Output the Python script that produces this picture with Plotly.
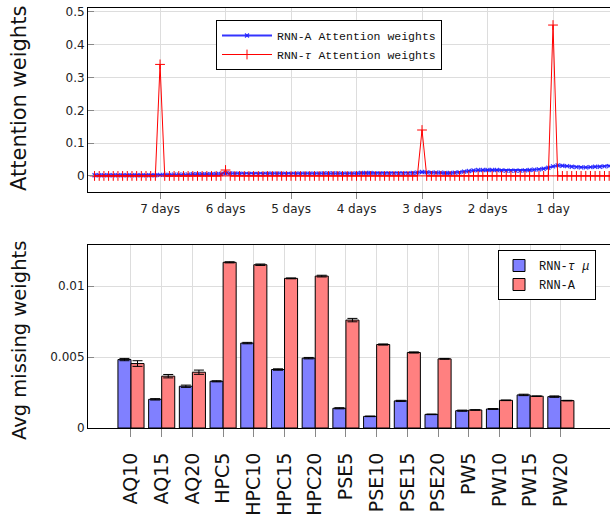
import plotly.graph_objects as go

# ---------------- data: top chart (attention weights) ----------------
steps_per_day = 14
day_ticks = [-7, -6, -5, -4, -3, -2, -1]
day_labels = ["7 days", "6 days", "5 days", "4 days", "3 days", "2 days", "1 day"]

rnn_a_att = [
    0.002, 0.002, 0.002, 0.002, 0.002, 0.002, 0.002, 0.002, 0.002, 0.002, 0.002, 0.002, 0.002, 0.002, 0.003,
    0.003, 0.003, 0.004, 0.004, 0.004, 0.004, 0.005, 0.005, 0.005, 0.005, 0.005, 0.006, 0.006, 0.008,
    0.008, 0.007, 0.007, 0.006, 0.006, 0.006, 0.006, 0.006, 0.007, 0.007, 0.007, 0.007, 0.006, 0.006,
    0.007, 0.007, 0.007, 0.007, 0.007, 0.007, 0.008, 0.008, 0.008, 0.008, 0.007, 0.007, 0.007, 0.008,
    0.009, 0.009, 0.009, 0.008, 0.008, 0.008, 0.008, 0.008, 0.008, 0.008, 0.008, 0.009, 0.010, 0.012,
    0.011, 0.010, 0.010, 0.010, 0.009, 0.009, 0.010, 0.011, 0.013, 0.015, 0.017, 0.018, 0.018, 0.018,
    0.018, 0.018, 0.017, 0.016, 0.016, 0.016, 0.016, 0.017, 0.018, 0.019, 0.020, 0.022, 0.025, 0.029,
    0.032, 0.031, 0.030, 0.028, 0.027, 0.026, 0.026, 0.027, 0.028, 0.028, 0.029, 0.030, 0.031, 0.033,
]

rnn_tau_att = [
    0.0, 0.0, 0.0, 0.0, 0.0, 0.0, 0.0, 0.0, 0.0, 0.0, 0.0, 0.0, 0.0, 0.0, 0.34,
    0.0, 0.0, 0.0, 0.0, 0.0, 0.0, 0.0, 0.0, 0.0, 0.0, 0.0, 0.0, 0.0, 0.018,
    0.0, 0.0, 0.0, 0.0, 0.0, 0.0, 0.0, 0.0, 0.0, 0.0, 0.0, 0.0, 0.0, 0.0,
    0.0, 0.0, 0.0, 0.0, 0.0, 0.0, 0.0, 0.0, 0.0, 0.0, 0.0, 0.0, 0.0, 0.0,
    0.0, 0.0, 0.0, 0.0, 0.0, 0.0, 0.0, 0.0, 0.0, 0.0, 0.0, 0.0, 0.0, 0.14,
    0.0, 0.0, 0.0, 0.0, 0.0, 0.0, 0.0, 0.0, 0.0, 0.0, 0.0, 0.0, 0.0, 0.0,
    0.0, 0.0, 0.0, 0.0, 0.0, 0.0, 0.0, 0.0, 0.0, 0.0, 0.0, 0.0, 0.0, 0.46,
    0.0, 0.0, 0.0, 0.0, 0.0, 0.0, 0.0, 0.0, 0.0, 0.0, 0.0, 0.0, 0.0, 0.0,
]

n_steps = len(rnn_a_att)
time_days = [(i - (n_steps - 1)) / steps_per_day for i in range(n_steps)]

# ---------------- data: bottom chart (avg missing weights) ----------------
datasets = ["AQ10", "AQ15", "AQ20", "HPC5", "HPC10", "HPC15", "HPC20",
            "PSE5", "PSE10", "PSE15", "PSE20", "PW5", "PW10", "PW15", "PW20"]
rnn_tau_mu = [0.00482, 0.00202, 0.00294, 0.00329, 0.00598, 0.00412, 0.00492,
              0.00139, 0.00082, 0.00191, 0.00096, 0.00122, 0.00134, 0.00233, 0.00221]
rnn_tau_mu_err = [0.00008, 0.00005, 0.00008, 0.00004, 0.00005, 0.00005, 0.00005,
                  0.00004, 0.00002, 0.00004, 0.00002, 0.00004, 0.00003, 0.00005, 0.00005]
rnn_a_missing = [0.00454, 0.00365, 0.00393, 0.01167, 0.01150, 0.01054, 0.01070,
                 0.00760, 0.00588, 0.00532, 0.00487, 0.00127, 0.00195, 0.00224, 0.00193]
rnn_a_missing_err = [0.00020, 0.00012, 0.00015, 0.00004, 0.00005, 0.00003, 0.00006,
                     0.00012, 0.00004, 0.00004, 0.00003, 0.00002, 0.00002, 0.00002, 0.00002]

W, H = 610, 521
FONT = "DejaVu Sans"
MONO = "Liberation Mono, Courier New, DejaVu Sans Mono, monospace"

fig = go.Figure()

fig.add_trace(go.Scatter(
    x=time_days, y=rnn_a_att, mode="lines+markers",
    name="RNN-A Attention weights",
    line=dict(color="rgba(30,30,255,0.9)", width=1.8),
    marker=dict(symbol="x-thin", size=4, line=dict(color="rgba(30,30,255,0.9)", width=1.2)),
    xaxis="x", yaxis="y", legend="legend",
))
fig.add_trace(go.Scatter(
    x=time_days, y=rnn_tau_att, mode="lines+markers",
    name="RNN-<i>τ</i> Attention weights",
    line=dict(color="red", width=1),
    marker=dict(symbol="cross-thin", size=7, line=dict(color="red", width=1)),
    xaxis="x", yaxis="y", legend="legend",
))

fig.add_trace(go.Bar(
    x=datasets, y=rnn_tau_mu, name="RNN-<i>τ μ</i>",
    marker=dict(color="#8080ff", line=dict(color="black", width=1)),
    error_y=dict(type="data", array=rnn_tau_mu_err, color="black", thickness=1, width=5),
    xaxis="x2", yaxis="y2", legend="legend2",
))
fig.add_trace(go.Bar(
    x=datasets, y=rnn_a_missing, name="RNN-A",
    marker=dict(color="#ff8080", line=dict(color="black", width=1)),
    error_y=dict(type="data", array=rnn_a_missing_err, color="black", thickness=1, width=5),
    xaxis="x2", yaxis="y2", legend="legend2",
))

L, R = 88, 0
pw = W - L - R

def py(screen_y):
    return 1 - screen_y / H

def px(screen_x):
    return (screen_x - L) / pw

grid = "#dddddd"
tickc = "#888888"

fig.update_layout(
    width=W, height=H,
    margin=dict(l=L, r=R, t=0, b=0, autoexpand=False),
    paper_bgcolor="white", plot_bgcolor="white",
    font=dict(family=FONT, size=12, color="#222"),
    barmode="group", bargap=0.15, bargroupgap=0.0,
    xaxis=dict(
        domain=[0, 1], anchor="y", range=[-8.1, -0.13], automargin=False,
        tickvals=day_ticks, ticktext=day_labels,
        showgrid=True, gridcolor=grid, gridwidth=1,
        showline=True, linecolor="black", linewidth=1, mirror=True,
        ticks="outside", ticklen=6, tickcolor=tickc,
        tickfont=dict(size=12, family=FONT), zeroline=False,
    ),
    yaxis=dict(
        domain=[py(192), py(8)], anchor="x", range=[-0.049, 0.512], automargin=False,
        tickvals=[0, 0.1, 0.2, 0.3, 0.4, 0.5], ticktext=["0", "0.1", "0.2", "0.3", "0.4", "0.5"],
        showgrid=True, gridcolor=grid, gridwidth=1,
        showline=True, linecolor="black", linewidth=1, mirror=False,
        ticks="inside", ticklen=6, tickcolor=tickc, ticklabeloverflow="allow",
        tickfont=dict(size=12, family=FONT), zeroline=False,
    ),
    xaxis2=dict(
        domain=[0, 1], anchor="y2", range=[-1.4, 15.6], automargin=False,
        type="category",
        showgrid=True, gridcolor=grid, gridwidth=1,
        showline=True, linecolor="black", linewidth=1, mirror=True,
        ticks="outside", ticklen=8, tickcolor=tickc, ticklabelstandoff=8,
        tickangle=-90, tickfont=dict(size=19, family=FONT, color="#111"),
    ),
    yaxis2=dict(
        domain=[py(428), py(245)], anchor="x2", range=[0, 0.01289], automargin=False,
        tickvals=[0, 0.005, 0.01], ticktext=["0", "0.005", "0.01"],
        showgrid=True, gridcolor=grid, gridwidth=1,
        showline=True, linecolor="black", linewidth=1, mirror=False,
        ticks="inside", ticklen=6, tickcolor=tickc, ticklabeloverflow="allow",
        tickfont=dict(size=12, family=FONT), zeroline=False,
    ),
    legend=dict(
        x=px(216), y=py(20), xanchor="left", yanchor="top",
        bgcolor="white", bordercolor="black", borderwidth=1,
        itemwidth=50,
        font=dict(family=MONO, size=11.5, color="#111"),
    ),
    legend2=dict(
        x=px(498), y=py(250), xanchor="left", yanchor="top",
        bgcolor="white", bordercolor="black", borderwidth=1,
        font=dict(family=MONO, size=12, color="#111"),
    ),
    showlegend=True,
    annotations=[
        dict(text="Attention weights", x=px(19), y=py(99), xref="paper", yref="paper",
             showarrow=False, textangle=-90, font=dict(family=FONT, size=21, color="#111"),
             xanchor="center", yanchor="middle"),
        dict(text="Avg missing weights", x=px(19), y=py(341), xref="paper", yref="paper",
             showarrow=False, textangle=-90, font=dict(family=FONT, size=19.5, color="#111"),
             xanchor="center", yanchor="middle"),
    ],
)

# remove the default page margin so the figure fills the window exactly
fig.write_html("out.html", config={"displayModeBar": False},
               post_script="document.body.style.margin='0';")
